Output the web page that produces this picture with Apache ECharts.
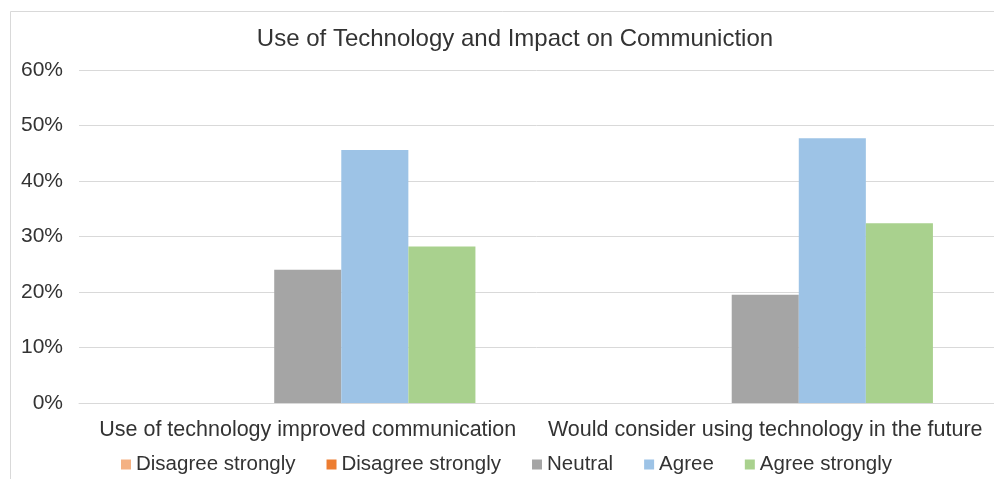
<!DOCTYPE html>
<html>
<head>
<meta charset="utf-8">
<script src="https://cdn.jsdelivr.net/npm/echarts@6/dist/echarts.min.js"></script>
<style>
  html, body { margin: 0; padding: 0; background: #fff; }
  #chart { width: 994px; height: 479px; }
</style>
</head>
<body>
<div id="chart"></div>
<script>
var categories = ['Use of technology improved communication', 'Would consider using technology in the future'];
// zweiter Name mit Leerzeichen, sonst fasst die Legende beide zusammen
var seriesNames = ['Disagree strongly', 'Disagree strongly ', 'Neutral', 'Agree', 'Agree strongly'];
var disagreeStrongly1 = [0, 0];
var disagreeStrongly2 = [0, 0];
var neutral = [24, 19.5];
var agree = [45.6, 47.7];
var agreeStrongly = [28.2, 32.4];
var yTicks = [0, 10, 20, 30, 40, 50, 60];

var colors = ['#F4B183', '#ED7D31', '#A5A5A5', '#9DC3E6', '#A9D18E'];
var values = [disagreeStrongly1, disagreeStrongly2, neutral, agree, agreeStrongly];
var font = '"Liberation Sans", Arial, sans-serif';

var myChart = echarts.init(document.getElementById('chart'));

var series = [];
for (var i = 0; i < values.length; i++) {
    series.push({
        name: seriesNames[i],
        type: 'bar',
        barGap: 0,
        barCategoryGap: '26.7%',
        itemStyle: { color: colors[i] },
        data: values[i]
    });
}

var option = {
    backgroundColor: '#fff',
    animation: false,
    color: colors,
    title: {
        text: 'Use of Technology and Impact on Communiction',
        left: 510,
        top: 22,
        textAlign: 'center',
        textStyle: { color: '#333', fontSize: 24, fontWeight: 'normal', fontFamily: font }
    },
    // rahmen links/oben wie im bild
    graphic: [{
        type: 'rect',
        shape: { x: 10.5, y: 11.5, width: 1000, height: 500 },
        style: { fill: 'none', stroke: '#d9d9d9', lineWidth: 1 },
        silent: true
    }],
    legend: {
        left: 116,
        top: 449,
        itemWidth: 10,
        itemHeight: 10,
        itemGap: 31,
        icon: 'rect',
        formatter: function (name) { return name.trim(); },
        textStyle: { color: '#333', fontSize: 20.5, fontFamily: font },
        data: seriesNames
    },
    grid: {
        left: 79,
        right: 0,
        top: 70,
        bottom: 76,
        containLabel: false
    },
    xAxis: {
        type: 'category',
        data: categories,
        axisLine: { lineStyle: { color: '#d9d9d9', width: 1 } },
        axisTick: { show: false },
        axisLabel: { color: '#333', fontSize: 21.5, fontFamily: font, margin: 16, interval: 0 }
    },
    yAxis: {
        type: 'value',
        min: yTicks[0],
        max: yTicks[yTicks.length - 1],
        interval: 10,
        axisLine: { show: false },
        axisTick: { show: false },
        splitLine: { lineStyle: { color: '#d9d9d9', width: 1 } },
        axisLabel: { color: '#333', fontSize: 21, fontFamily: font, margin: 16, formatter: '{value}%' }
    },
    series: series
};

myChart.setOption(option);
</script>
</body>
</html>
